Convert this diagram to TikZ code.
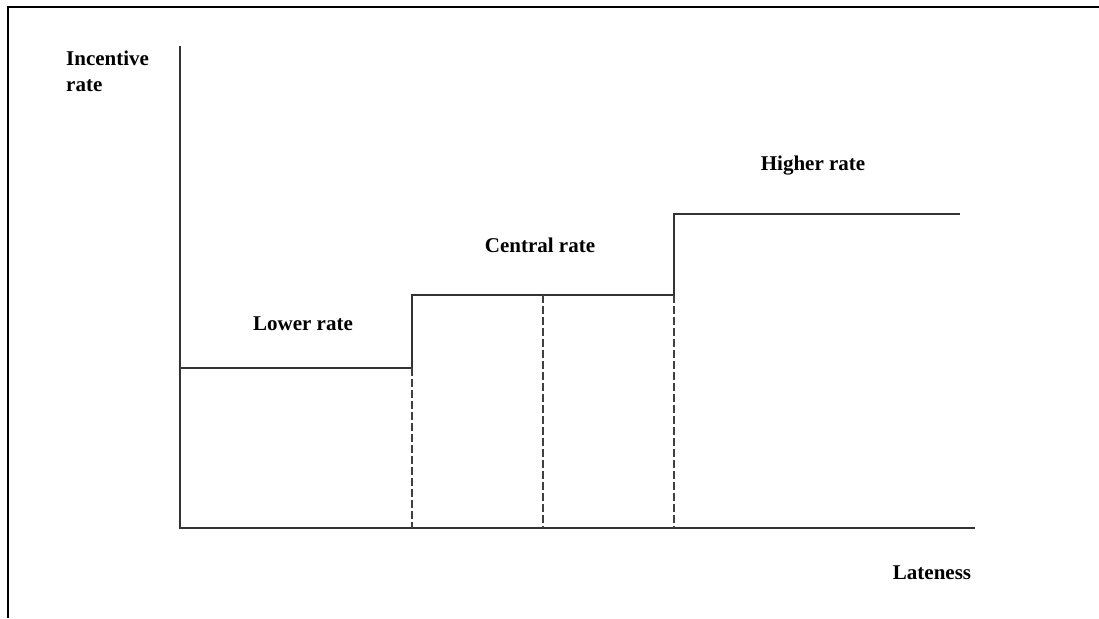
\documentclass[tikz,border=0pt]{standalone}
\usepackage{fontspec}
\setmainfont{Liberation Serif}
\begin{document}
\begin{tikzpicture}[x=1pt,y=-1pt,
  lbl/.style={font=\fontsize{21}{25.5}\selectfont\bfseries, inner sep=0pt},
  plotline/.style={line width=1.4pt, black!80},
  dashline/.style={line width=1.1pt, black!75, dash pattern=on 8pt off 3pt},
  framel/.style={line width=2pt}]
\useasboundingbox (0,0) rectangle (1099,618);
% frame
\coordinate (fTR) at (1099,7);
\coordinate (fTL) at (8,7);
\coordinate (fBL) at (8,618);
\draw[framel] (fTR) -- (fTL) -- (fBL);
% axes
\coordinate (O) at (180,528);
\coordinate (ytop) at (180,46);
\coordinate (xend) at (975,528);
\draw[plotline] (ytop) -- (O) -- (xend);
% step function
\coordinate (l0) at (180,368);
\coordinate (l1) at (412,368);
\coordinate (c0) at (412,295);
\coordinate (cm) at (543,295);
\coordinate (c1) at (674,295);
\coordinate (h0) at (674,214);
\coordinate (h1) at (960,214);
\draw[plotline] (l0) -- (l1) -- (c0) -- (c1) -- (h0) -- (h1);
% dashed verticals
\coordinate (d1) at (412,528);
\coordinate (d2) at (543,528);
\coordinate (d3) at (674,528);
\draw[dashline] (l1) -- (d1);
\draw[dashline] (cm) -- (d2);
\draw[dashline] (c1) -- (d3);
% labels
\node[lbl, anchor=north west, align=left] (ylab) at (66,51) {Incentive\\rate};
\node[lbl] (lower) at (303,324) {Lower rate};
\node[lbl] (central) at (540,245) {Central rate};
\node[lbl] (higher) at (813,166) {Higher rate};
\node[lbl] (xlab) at (932,573) {Lateness};
\end{tikzpicture}
\end{document}
